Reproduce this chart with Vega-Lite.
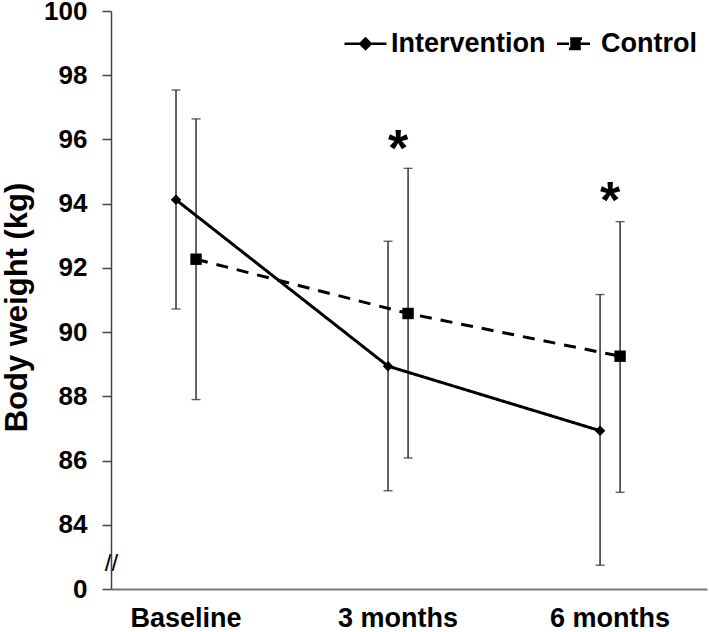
{
  "$schema": "https://vega.github.io/schema/vega-lite/v6.json",
  "width": 596,
  "height": 578,
  "autosize": "none",
  "padding": {"left": 111, "top": 11, "right": 2, "bottom": 43},
  "config": {"view": {"stroke": null}, "font": "Liberation Sans"},
  "datasets": {
    "means": [
      {"time": "Baseline", "group": "Intervention", "mean": 94.12, "lo": 90.72, "hi": 97.54},
      {"time": "Baseline", "group": "Control", "mean": 92.27, "lo": 87.9, "hi": 96.64},
      {"time": "3 months", "group": "Intervention", "mean": 88.94, "lo": 85.06, "hi": 92.83},
      {"time": "3 months", "group": "Control", "mean": 90.58, "lo": 86.08, "hi": 95.1},
      {"time": "6 months", "group": "Intervention", "mean": 86.93, "lo": 82.74, "hi": 91.17},
      {"time": "6 months", "group": "Control", "mean": 89.25, "lo": 85.01, "hi": 93.44}
    ],
    "stars": [
      {"time": "3 months", "y": 95.98, "label": "*"},
      {"time": "6 months", "y": 94.36, "label": "*"}
    ]
  },
  "encoding": {
    "x": {
      "field": "time", "type": "nominal",
      "sort": ["Baseline", "3 months", "6 months"],
      "scale": {"domain": ["Baseline", "3 months", "6 months"], "paddingInner": 0.811, "paddingOuter": 0.311, "align": 0.417},
      "axis": {
        "title": null, "ticks": false, "domainColor": "#777", "domainWidth": 2,
        "labelFontSize": 27, "labelFontWeight": "bold", "labelColor": "black",
        "labelPadding": 16, "labelAngle": 0
      }
    }
  },
  "layer": [
    {
      "data": {"name": "means"},
      "mark": {"type": "rule", "color": "#222", "strokeWidth": 1.4},
      "encoding": {
        "xOffset": {"field": "group", "type": "nominal", "scale": {"domain": ["Intervention", "Control"], "padding": 0}},
        "y": {"field": "lo", "type": "quantitative"},
        "y2": {"field": "hi"}
      }
    },
    {
      "data": {"name": "means"},
      "mark": {"type": "tick", "color": "#222", "thickness": 1.4, "size": 9, "orient": "horizontal"},
      "encoding": {
        "xOffset": {"field": "group", "type": "nominal"},
        "y": {"field": "lo", "type": "quantitative"}
      }
    },
    {
      "data": {"name": "means"},
      "mark": {"type": "tick", "color": "#222", "thickness": 1.4, "size": 9, "orient": "horizontal"},
      "encoding": {
        "xOffset": {"field": "group", "type": "nominal"},
        "y": {"field": "hi", "type": "quantitative"}
      }
    },
    {
      "data": {"name": "means"},
      "mark": {"type": "line", "color": "black", "strokeWidth": 3},
      "encoding": {
        "xOffset": {"field": "group", "type": "nominal"},
        "y": {
          "field": "mean", "type": "quantitative",
          "scale": {"domain": [82, 100], "nice": false, "zero": false},
          "axis": {
            "values": [82, 82.8, 84, 86, 88, 90, 92, 94, 96, 98, 100],
            "labelExpr": "datum.value == 82 ? '0' : datum.value == 82.8 ? '//' : datum.label",
            "labelOverlap": false, "labelFlush": false,
            "grid": false,
            "title": "Body weight (kg)",
            "titleFontSize": 31, "titleFontWeight": "bold", "titleColor": "black",
            "titleAngle": -90, "titleBaseline": "middle", "titleAlign": "center",
            "titleX": -94, "titleY": 296,
            "labelFontSize": {"condition": {"test": "datum.value == 82.8", "value": 24}, "value": 26},
            "labelFontWeight": {"condition": {"test": "datum.value == 82.8", "value": "normal"}, "value": "bold"},
            "labelAlign": {"condition": {"test": "datum.value == 82.8", "value": "center"}, "value": "right"},
            "labelPadding": {"condition": {"test": "datum.value == 82.8", "value": 0}, "value": 15},
            "tickSize": {"condition": {"test": "datum.value == 82.8", "value": 0}, "value": 9},
            "labelColor": "black",
            "tickColor": "#444", "tickWidth": 1.5,
            "domainColor": "#444", "domainWidth": 1.5
          }
        },
        "strokeDash": {
          "field": "group", "type": "nominal",
          "scale": {"domain": ["Intervention", "Control"], "range": [[1, 0], [12, 9]]},
          "legend": {
            "orient": "top-right", "direction": "horizontal", "title": null,
            "offset": 10, "padding": 0,
            "labelFontSize": 27, "labelFontWeight": "bold", "labelColor": "black", "labelLimit": 300,
            "labelOffset": 3, "columnPadding": 6,
            "symbolSize": 1764, "symbolStrokeWidth": 2.5, "symbolStrokeColor": "black",
            "encode": {
              "symbols": {
                "update": {
                  "shape": {"signal": "datum.value === 'Intervention' ? 'M-1,0L1,0M0,-0.25L0.25,0L0,0.25L-0.25,0Z' : 'M-0.88,0L0.88,0M-0.25,-0.25L0.25,-0.25L0.25,0.25L-0.25,0.25Z'"},
                  "size": {"value": 1764},
                  "fill": {"value": "black"},
                  "stroke": {"value": "black"},
                  "strokeWidth": {"value": 2.5},
                  "opacity": {"value": 1},
                  "strokeDash": {"value": [1, 0]}
                }
              }
            }
          }
        }
      }
    },
    {
      "data": {"name": "means"},
      "mark": {"type": "point", "filled": true, "color": "black", "opacity": 1},
      "encoding": {
        "xOffset": {"field": "group", "type": "nominal"},
        "y": {"field": "mean", "type": "quantitative"},
        "size": {"field": "group", "type": "nominal", "scale": {"domain": ["Control", "Intervention"], "range": [130, 110]}, "legend": null},
        "shape": {"field": "group", "type": "nominal", "scale": {"domain": ["Control", "Intervention"], "range": ["square", "diamond"]}, "legend": null}
      }
    },
    {
      "data": {"name": "stars"},
      "mark": {"type": "text", "fontSize": 52, "fontWeight": "bold", "color": "black", "baseline": "alphabetic", "dy": 26},
      "encoding": {
        "y": {"field": "y", "type": "quantitative"},
        "text": {"field": "label"}
      }
    }
  ]
}
